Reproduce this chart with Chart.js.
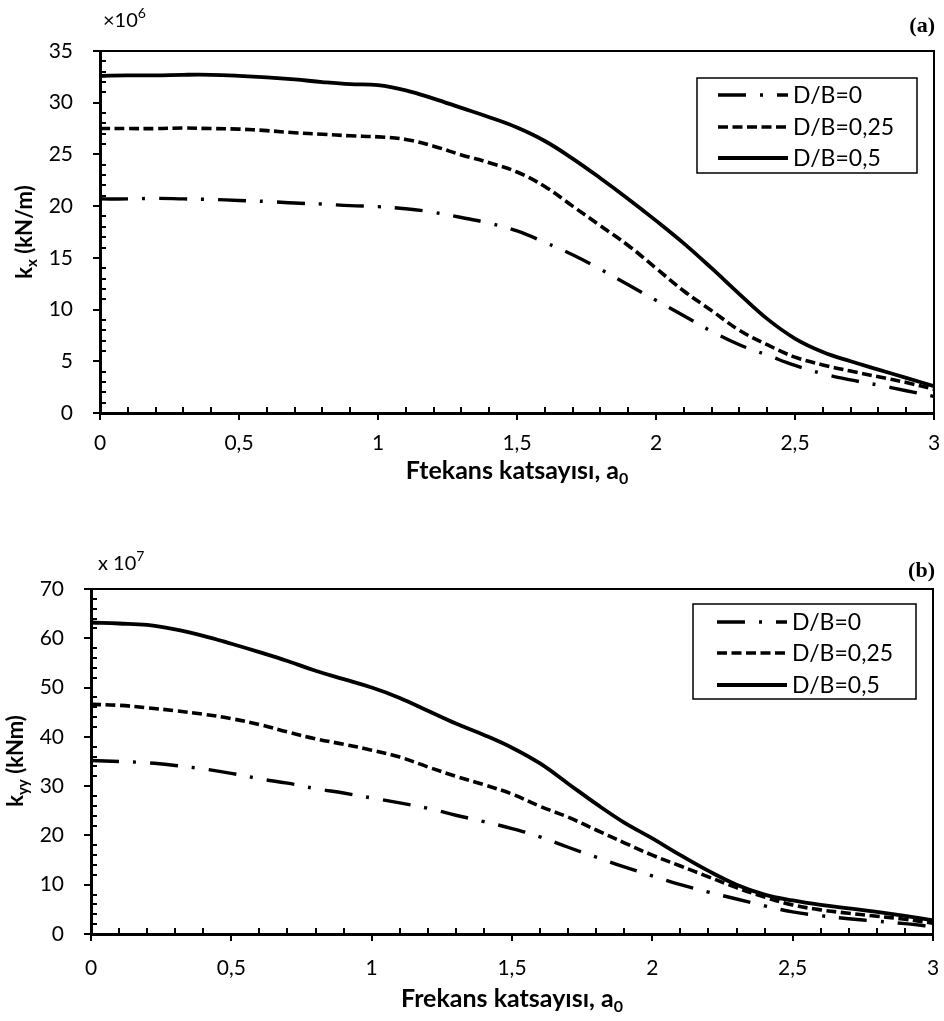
<!DOCTYPE html>
<html>
<head>
<meta charset="utf-8">
<script src="https://cdn.jsdelivr.net/npm/chart.js@4.4.1/dist/chart.umd.min.js"></script>
<style>
    html, body { margin: 0; padding: 0; background: #fff; }
    canvas { position: absolute; left: 0; }
    #chart-a { top: 0; }
    #chart-b { top: 510px; }
</style>
</head>
<body>
<canvas id="chart-a" width="944" height="510"></canvas>
<canvas id="chart-b" width="944" height="511"></canvas>
<script>
// frekans katsayısı a0
const a0 = [0, 0.1, 0.2, 0.3, 0.4, 0.5, 0.6, 0.7, 0.8, 0.9, 1.0,
    1.1, 1.2, 1.3, 1.4, 1.5, 1.6, 1.7, 1.8, 1.9, 2.0,
    2.1, 2.2, 2.3, 2.4, 2.5, 2.6, 2.7, 2.8, 2.9, 3.0];

const seriesLabels = ["D/B=0", "D/B=0,25", "D/B=0,5"];

// (a) kx, x10^6 kN/m
const kxDB0 = [20.7, 20.7, 20.75, 20.7, 20.65, 20.55, 20.45, 20.3, 20.2, 20.05, 19.95,
    19.75, 19.4, 18.9, 18.35, 17.6, 16.5, 15.3, 13.9, 12.4, 10.9,
    9.4, 7.9, 6.6, 5.6, 4.6, 3.8, 3.2, 2.7, 2.15, 1.6];
const kxDB025 = [27.5, 27.5, 27.5, 27.55, 27.5, 27.45, 27.3, 27.1, 26.95, 26.8, 26.7,
    26.45, 25.8, 24.95, 24.2, 23.3, 21.9, 20.0, 18.1, 16.2, 14.0,
    11.8, 9.9, 8.0, 6.6, 5.4, 4.65, 4.05, 3.5, 2.95, 2.3];
const kxDB05 = [32.6, 32.65, 32.65, 32.7, 32.7, 32.6, 32.45, 32.25, 32.0, 31.8, 31.7,
    31.2, 30.4, 29.5, 28.6, 27.6, 26.3, 24.6, 22.7, 20.7, 18.6,
    16.4, 14.0, 11.5, 9.1, 7.2, 5.9, 5.0, 4.2, 3.4, 2.6];

// (b) kyy, x10^7 kNm
const kyyDB0 = [35.2, 35.0, 34.75, 34.2, 33.5, 32.6, 31.5, 30.6, 29.5, 28.6, 27.6,
    26.6, 25.5, 24.1, 22.8, 21.4, 19.7, 17.6, 15.6, 13.6, 11.8,
    10.0, 8.5, 7.1, 5.7, 4.5, 3.7, 3.1, 2.6, 2.1, 1.5];
const kyyDB025 = [46.6, 46.4, 45.9, 45.3, 44.6, 43.7, 42.5, 41.0, 39.6, 38.5, 37.3,
    35.9, 33.9, 32.0, 30.3, 28.4, 25.9, 23.7, 21.1, 18.5, 16.0,
    13.8, 11.6, 9.4, 7.5, 5.9, 4.9, 4.2, 3.6, 3.0, 2.2];
const kyyDB05 = [63.2, 63.0, 62.7, 61.8, 60.5, 58.9, 57.2, 55.4, 53.4, 51.7, 50.0,
    47.9, 45.3, 42.7, 40.4, 37.8, 34.6, 30.5, 26.4, 22.6, 19.4,
    16.0, 12.8, 10.0, 8.0, 6.8, 5.9, 5.2, 4.5, 3.7, 2.8];

const lineStyles = [
    { dash: [28, 14, 3, 14], width: 3.4 },
    { dash: [10, 4.5], width: 3.6 },
    { dash: [], width: 3.8 }
];

const LEGEND_FONT = "23px Lato";

function drawRichText(ctx, parts, x, y, align, rotate) {
    ctx.save();
    ctx.translate(x, y);
    if (rotate) {
        ctx.rotate(-Math.PI / 2);
    }
    ctx.fillStyle = "#000";
    ctx.textBaseline = "alphabetic";
    ctx.textAlign = "left";
    const widths = parts.map(part => {
        ctx.font = part.font;
        return ctx.measureText(part.text).width;
    });
    const total = widths.reduce((a, b) => a + b, 0);
    let cx = align === "center" ? -total / 2 : align === "right" ? -total : 0;
    parts.forEach((part, i) => {
        ctx.font = part.font;
        ctx.fillText(part.text, cx, part.dy || 0);
        cx += widths[i];
    });
    ctx.restore();
}

// ince kenarlar, iç küçük çentikler, lejant ve yazılar
const decorPlugin = {
    id: "decor",
    afterDraw(chart, args, opts) {
        const { ctx, chartArea, scales } = chart;
        const { left, right, top, bottom } = chartArea;

        ctx.save();
        ctx.strokeStyle = "#000";

        // üst ve sağ kenar
        ctx.lineWidth = 2;
        ctx.beginPath();
        ctx.moveTo(left, top);
        ctx.lineTo(right, top);
        ctx.lineTo(right, bottom);
        ctx.stroke();

        // küçük çentikler
        ctx.lineWidth = 2;
        ctx.beginPath();
        opts.minorX.forEach(v => {
            const px = Math.round(scales.x.getPixelForValue(v));
            ctx.moveTo(px, bottom);
            ctx.lineTo(px, bottom - 6);
        });
        opts.minorY.forEach(v => {
            const py = Math.round(scales.y.getPixelForValue(v));
            ctx.moveTo(left, py);
            ctx.lineTo(left + 6, py);
        });
        ctx.stroke();

        // lejant
        const lg = opts.legend;
        ctx.lineWidth = 1.5;
        ctx.strokeRect(lg.x, lg.y, lg.w, lg.h);
        chart.data.datasets.forEach((ds, i) => {
            const rowY = lg.rows[i];
            ctx.save();
            ctx.lineWidth = ds.borderWidth;
            ctx.setLineDash(ds.borderDash);
            ctx.beginPath();
            ctx.moveTo(lg.sampleX, rowY);
            ctx.lineTo(lg.sampleX + 70, rowY);
            ctx.stroke();
            ctx.restore();
            ctx.fillStyle = "#000";
            ctx.font = LEGEND_FONT;
            ctx.textBaseline = "middle";
            ctx.textAlign = "left";
            ctx.fillText(ds.label, lg.sampleX + 75, rowY + 1);
        });
        ctx.restore();

        opts.texts.forEach(t => drawRichText(ctx, t.parts, t.x, t.y, t.align, t.rotate));
    }
};

function range(from, to, step, skipEvery) {
    const out = [];
    for (let i = 0; from + i * step <= to + 1e-9; i++) {
        if (i % skipEvery !== 0) {
            out.push(+(from + i * step).toFixed(4));
        }
    }
    return out;
}

function makeChart(canvas, setup) {
    const datasets = setup.series.map((values, i) => ({
        label: seriesLabels[i],
        data: a0.map((x, j) => ({ x, y: values[j] })),
        borderColor: "#000",
        borderWidth: lineStyles[i].width,
        borderDash: lineStyles[i].dash,
        borderCapStyle: "butt",
        pointRadius: 0,
        fill: false,
        tension: 0.4
    }));

    return new Chart(canvas, {
        type: "line",
        data: { datasets },
        plugins: [decorPlugin],
        options: {
            responsive: false,
            animation: false,
            events: [],
            layout: { padding: setup.padding },
            plugins: {
                legend: { display: false },
                tooltip: { enabled: false },
                decor: setup.decor
            },
            scales: {
                x: {
                    type: "linear",
                    min: 0,
                    max: 3,
                    afterFit(scale) {
                        scale.height = setup.xHeight;
                        scale.paddingLeft = 0;
                        scale.paddingRight = 0;
                    },
                    border: { display: true, color: "#000", width: 3 },
                    grid: { drawOnChartArea: false, drawTicks: true, tickLength: 7, color: "#000", lineWidth: 2 },
                    ticks: {
                        stepSize: 0.5,
                        color: "#000",
                        font: { family: "Lato", size: 21 },
                        padding: setup.xPad,
                        maxRotation: 0,
                        callback: value => String(value).replace(".", ",")
                    }
                },
                y: {
                    min: 0,
                    max: setup.yMax,
                    afterFit(scale) {
                        scale.width = setup.yWidth;
                        scale.paddingTop = 0;
                        scale.paddingBottom = 0;
                    },
                    border: { display: true, color: "#000", width: 3 },
                    grid: { drawOnChartArea: false, drawTicks: true, tickLength: 7, color: "#000", lineWidth: 2 },
                    ticks: {
                        stepSize: setup.yStep,
                        color: "#000",
                        font: { family: "Lato", size: 21 },
                        padding: 20
                    }
                }
            }
        }
    });
}

makeChart(document.getElementById("chart-a"), {
    series: [kxDB0, kxDB025, kxDB05],
    padding: { left: 0, right: 10, top: 51, bottom: 0 },
    xHeight: 97,
    yWidth: 100,
    xPad: 11,
    yMax: 35,
    yStep: 5,
    decor: {
        minorX: range(0, 3, 0.1, 5),
        minorY: range(0, 35, 1, 5),
        legend: { x: 697, y: 78, w: 220, h: 95, rows: [95, 127, 158], sampleX: 718 },
        texts: [
            { parts: [{ text: "×10", font: "20px Lato" }, { text: "6", font: "14px Lato", dy: -9 }], x: 103, y: 27, align: "left" },
            { parts: [{ text: "(a)", font: "bold 22px 'Liberation Serif'" }], x: 935, y: 32, align: "right" },
            { parts: [{ text: "k", font: "bold 22px Lato" }, { text: "x", font: "bold 15px Lato", dy: 5 }, { text: " (kN/m)", font: "bold 22px Lato" }], x: 32, y: 232, align: "center", rotate: true },
            { parts: [{ text: "Ftekans katsayısı, a", font: "bold 25px Lato" }, { text: "0", font: "bold 16px Lato", dy: 5 }], x: 517, y: 479, align: "center" }
        ]
    }
});

makeChart(document.getElementById("chart-b"), {
    series: [kyyDB0, kyyDB025, kyyDB05],
    padding: { left: 0, right: 11, top: 79, bottom: 0 },
    xHeight: 87,
    yWidth: 91,
    xPad: 15,
    yMax: 70,
    yStep: 10,
    decor: {
        minorX: range(0, 3, 0.1, 5),
        minorY: range(0, 70, 2, 5),
        legend: { x: 693, y: 94, w: 223, h: 95, rows: [112, 143, 175], sampleX: 717 },
        texts: [
            { parts: [{ text: "x 10", font: "20px Lato" }, { text: "7", font: "14px Lato", dy: -9 }], x: 98, y: 60, align: "left" },
            { parts: [{ text: "(b)", font: "bold 22px 'Liberation Serif'" }], x: 935, y: 67, align: "right" },
            { parts: [{ text: "k", font: "bold 22px Lato" }, { text: "yy", font: "bold 15px Lato", dy: 5 }, { text: " (kNm)", font: "bold 22px Lato" }], x: 23, y: 251, align: "center", rotate: true },
            { parts: [{ text: "Frekans katsayısı, a", font: "bold 25px Lato" }, { text: "0", font: "bold 16px Lato", dy: 5 }], x: 512, y: 497, align: "center" }
        ]
    }
});
</script>
</body>
</html>
